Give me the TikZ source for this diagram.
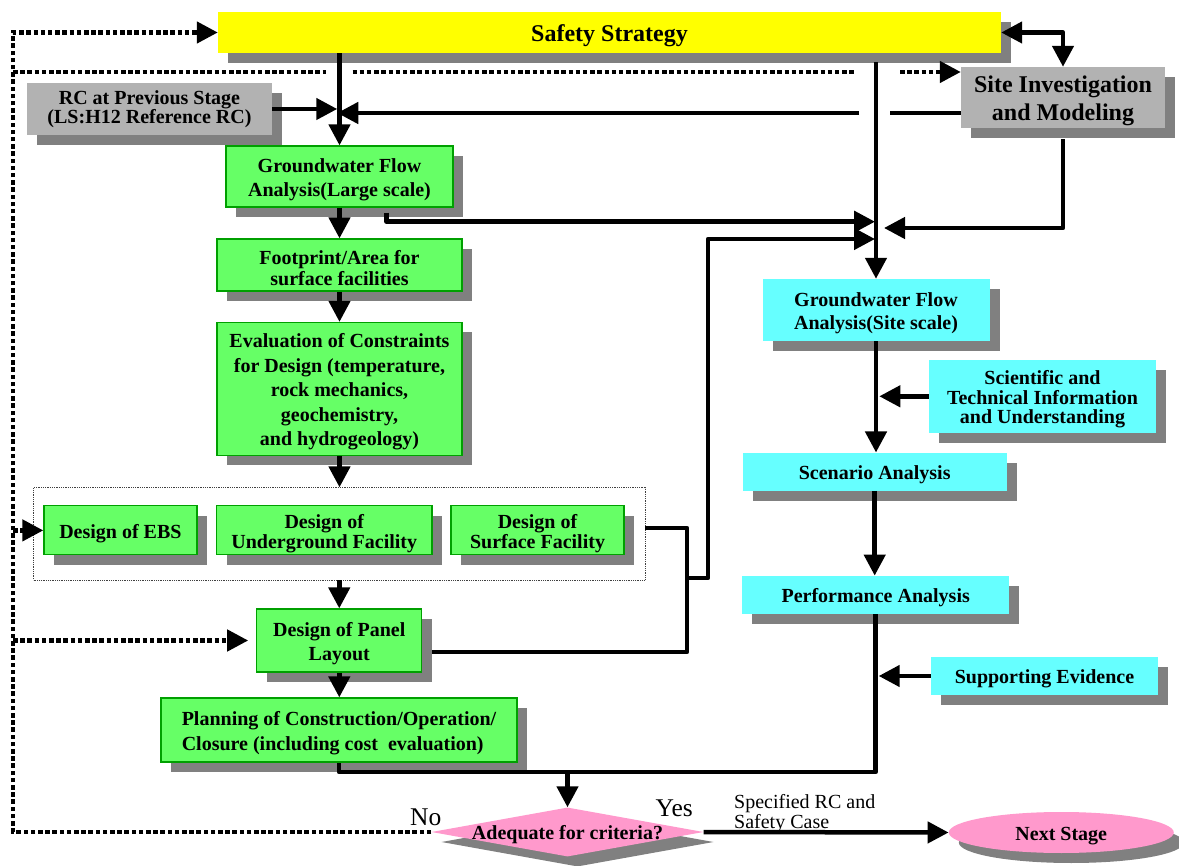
\documentclass[tikz,border=0pt]{standalone}
\usepackage{fontspec}
\setmainfont{Liberation Serif}
\usetikzlibrary{arrows.meta,shapes.geometric,shadows,calc}
\definecolor{boxyellow}{HTML}{FFFF00}
\definecolor{boxgreen}{HTML}{66FF66}
\definecolor{greenedge}{HTML}{00A000}
\definecolor{boxcyan}{HTML}{66FFFF}
\definecolor{boxgray}{HTML}{B2B2B2}
\definecolor{shadegray}{HTML}{808080}
\definecolor{boxpink}{HTML}{FF99CC}
% full-em strut that lowers the text block slightly inside a box
\newcommand{\topstrut}{\rule{0pt}{1em}}

\begin{document}
\begin{tikzpicture}[x=1pt,y=-1pt,
  shade box/.style={drop shadow={shadow xshift=10pt,shadow yshift=-10pt,fill=shadegray,opacity=1}},
  base box/.style={rectangle,inner sep=0pt,align=center,
    font=\bfseries\fontsize{20}{24}\selectfont,shade box,
    execute at begin node={\topstrut}},
  yellowbox/.style={base box,fill=boxyellow},
  graybox/.style={base box,fill=boxgray},
  greenbox/.style={base box,fill=boxgreen,draw=greenedge,line width=1.2pt},
  cyanbox/.style={base box,fill=boxcyan},
  wh/.style 2 args={minimum width=#1pt,minimum height=#2pt},
  tight/.style={font=\bfseries\fontsize{20}{#1}\selectfont},
  big/.style={font=\bfseries\fontsize{24}{28}\selectfont},
  conn/.style={line width=4.5pt,line join=round},
  arr/.style={conn,-{Triangle[length=21pt,width=21pt]}},
  twoarr/.style={conn,{Triangle[length=21pt,width=21pt]}-{Triangle[length=21pt,width=21pt]}},
  dotconn/.style={line width=4.5pt,dash pattern=on 4.5pt off 2.7pt},
  dotarr/.style={dotconn,-{Triangle[length=21pt,width=21pt]}},
  plain/.style={inner sep=0pt,font=\fontsize{#1}{19.5}\selectfont}
]
\useasboundingbox (0,0) rectangle (1179,866);
\fill[white] (0,0) rectangle (1179,866);

% ---- boxes ----
\node[yellowbox,wh={783}{41},big] (safety) at (609.5,32.5) {Safety Strategy};
\node[graybox,wh={204}{61},big] (site) at (1063,97.5) {\topstrut Site Investigation\\and Modeling};
\node[graybox,wh={245}{52},tight=19.5] (rc) at (149.5,109) {RC at Previous Stage\\(LS:H12 Reference RC)};

\node[greenbox,wh={227}{61}] (gwl) at (339.5,176.5) {\topstrut Groundwater Flow\\Analysis(Large scale)};
\node[greenbox,wh={245}{52},tight=21] (foot) at (339.5,265) {\topstrut Footprint/Area for\\surface facilities};
\node[greenbox,wh={245}{133},tight=24.5] (eval) at (339.5,389)
  {\topstrut Evaluation of Constraints\\for Design (temperature,\\rock mechanics,\\geochemistry,\\and hydrogeology)};

\node[draw=black!75,densely dotted,line width=0.8pt,inner sep=0pt,wh={611.5}{92.3}] (group) at (339.25,533.9) {};
\node[greenbox,wh={153}{49}] (ebs) at (120.4,530.4) {Design of EBS};
\node[greenbox,wh={215.5}{49},tight=20] (ug) at (324.25,530.4) {\topstrut Design of\\Underground Facility};
\node[greenbox,wh={173}{49},tight=20] (sf) at (537.5,530.4) {\topstrut Design of\\Surface Facility};

\node[greenbox,wh={165}{63}] (panel) at (339.3,640.5) {\topstrut Design of Panel\\Layout};
\node[greenbox,wh={356}{64},tight=24.5,align=left] (plan) at (339,730)
  {\topstrut Planning of Construction/Operation/\\Closure (including cost~ evaluation)};

\node[cyanbox,wh={227}{62},tight=23] (gws) at (876,310) {\topstrut Groundwater Flow\\Analysis(Site scale)};
\node[cyanbox,wh={227}{73},tight=19.5] (sci) at (1042.5,396.3) {\topstrut Scientific and\\Technical Information\\and Understanding};
\node[cyanbox,wh={264}{38}] (scen) at (874.7,471.7) {Scenario Analysis};
\node[cyanbox,wh={267}{38}] (perf) at (875.7,594.8) {Performance Analysis};
\node[cyanbox,wh={227}{38}] (sup) at (1044.5,676) {Supporting Evidence};

\node[diamond,fill=boxpink,inner sep=0pt,wh={272}{49},shade box,
  label={[font=\bfseries\fontsize{20}{24}\selectfont]center:\topstrut Adequate for criteria?}] (dia) at (567.5,832) {};
\node[ellipse,fill=boxpink,inner sep=0pt,wh={225}{41},shade box,
  font=\bfseries\fontsize{20}{24}\selectfont] (next) at (1061.3,832.5) {\topstrut Next Stage};

% ---- labels ----
\node[plain=25.5,anchor=base west] (nolbl) at (410,825) {No};
\node[plain=25.5,anchor=base west] (yeslbl) at (655.5,816.7) {Yes};
\node[plain=20,anchor=north west,align=left] (outlbl) at (734,794.3) {Specified RC and\\Safety Case};

% ---- routing points ----
\coordinate (fbtop) at (13,32.5);
\coordinate (fbbot) at (13,832);
\coordinate (yDot) at (0,72);
\coordinate (ySite) at (0,113);
\coordinate (yLarge) at (0,221.7);
\coordinate (ySiteIn) at (0,228);
\coordinate (yDesign) at (0,239);
\coordinate (yMerge) at (0,772);
\coordinate (jA) at (687,578);
\coordinate (jB) at (708,578);

% ---- solid connectors ----
\draw[arr] (gwl.north |- safety.south) -- (gwl.north);
\draw[arr] ($(gws.north |- safety.south)+(0,9)$) -- (gws.north);
\draw[arr,shorten >=2.25pt] (rc.east) -- (gwl.north |- rc.east);
\draw[conn] (site.west |- ySite) -- ($(gws.north |- ySite)+(14,0)$);
\draw[arr,shorten >=-2.25pt] ($(gws.north |- ySite)+(-17,0)$) -- (gwl.north |- ySite);
\draw[twoarr] (safety.east) -| (site.north);

\draw[arr,shorten >=1pt] ($(gwl.south)+(47,5)$) |- (gws.north |- yLarge);
\draw[arr,shorten >=8pt] ($(site.south)+(0,11)$) |- (gws.north |- ySiteIn);
\draw[conn] ($(group.east)+(0,-6)$) -| (jA);
\draw[conn] ($(panel.east)+(10,11.5)$) -| (jA);
\draw[arr,shorten >=1pt] (jA) -- (jB) |- (gws.north |- yDesign);

\draw[arr] (gwl.south) -- (gwl.south |- foot.north);
\draw[arr] (foot.south) -- (foot.south |- eval.north);
\draw[arr] (eval.south) -- (eval.south |- group.north);
\draw[arr] (group.south) -- (group.south |- panel.north);
\draw[arr] (panel.south) -- (panel.south |- plan.north);

\draw[arr] (gws.south) -- (gws.south |- scen.north);
\draw[arr,shorten >=3.3pt] (sci.west) -- (gws.south |- sci.west);
\draw[arr] (scen.south) -- (scen.south |- perf.north);
\draw[arr,shorten >=3pt] (sup.west) -- (perf.south |- sup.west);

\draw[conn] (perf.south) |- (plan.south |- yMerge) -- (plan.south);
\draw[arr] (dia.north |- yMerge) -- (dia.north);
\draw[arr] (dia.east) -- (next.west);

% ---- dotted feedback ----
\draw[dotarr] (dia.west) -- (fbbot) -- (fbtop) -- (safety.west);
\draw[dotconn] (fbtop |- yDot) -- ($(gwl.north |- yDot)+(-14,0)$);
\draw[dotconn] ($(gwl.north |- yDot)+(13,0)$) -- ($(gws.north |- yDot)+(-20,0)$);
\draw[dotarr] ($(gws.north |- yDot)+(24,0)$) -- (site.west |- yDot);
\draw[dotarr] (fbtop |- ebs.west) -- (ebs.west);
\draw[dotarr,shorten >=8pt] (fbtop |- panel.west) -- (panel.west);
\end{tikzpicture}
\end{document}
